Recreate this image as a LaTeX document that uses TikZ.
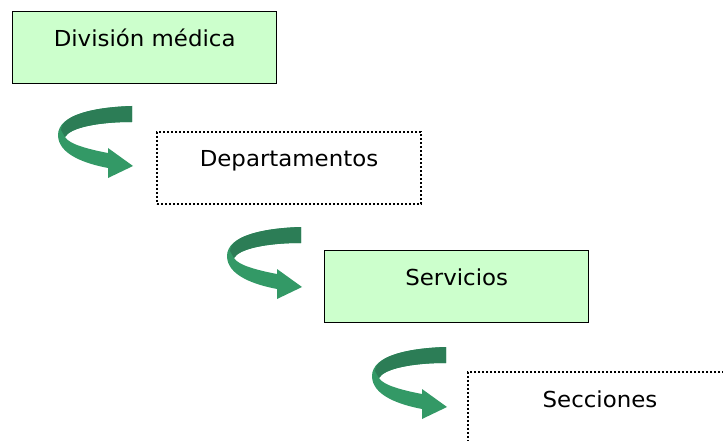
\documentclass[tikz,border=0pt]{standalone}
\usepackage{fontspec}
\setmainfont{DejaVu Sans}[FakeStretch=1.04]

\definecolor{boxgreen}{RGB}{204,255,204}
\definecolor{arrowlight}{RGB}{51,153,102}
\definecolor{arrowdark}{RGB}{44,125,86}

\tikzset{
  level/.style={rectangle,anchor=north west,inner sep=0pt,
    minimum width=264pt,minimum height=72pt,
    text height=20pt,text depth=22pt,font=\fontsize{22}{26}\selectfont},
  solidbox/.style={level,draw=black,line width=1.3pt,fill=boxgreen},
  dotbox/.style={level,draw=black,line width=2pt,dash pattern=on 2pt off 2pt},
  turnarrow/.pic={
    % whole band, light face
    \fill[arrowlight] (0,0) .. controls (-35,1) and (-74,8) .. (-74,29)
      .. controls (-74,49) and (-45,58) .. (-24,62)
      -- (-24,72) -- (1,60) -- (-24,42) -- (-24,47)
      .. controls (-45,43) and (-63,38) .. (-67,31)
      .. controls (-62,22) and (-35,16) .. (0,16) -- cycle;
    % back part of the band
    \fill[arrowdark] (0,0) .. controls (-35,1) and (-70,8) .. (-71,24)
      -- (-67,31)
      .. controls (-62,22) and (-35,16) .. (0,16) -- cycle;
  }
}

\begin{document}
\begin{tikzpicture}[x=1pt,y=-1pt]
  \useasboundingbox (0,0) rectangle (723,441);
  \clip (0,0) rectangle (723,441);

  \node[solidbox] (division) at (12,11) {División médica};
  \node[dotbox] (departamentos) at (156,131) {Departamentos};
  \node[solidbox] (servicios) at (324,250) {Servicios};
  \node[dotbox] (secciones) at (467,371) {Secciones};

  \pic at (132,106) {turnarrow};
  \pic at (301,227) {turnarrow};
  \pic at (446,347) {turnarrow};
\end{tikzpicture}
\end{document}
